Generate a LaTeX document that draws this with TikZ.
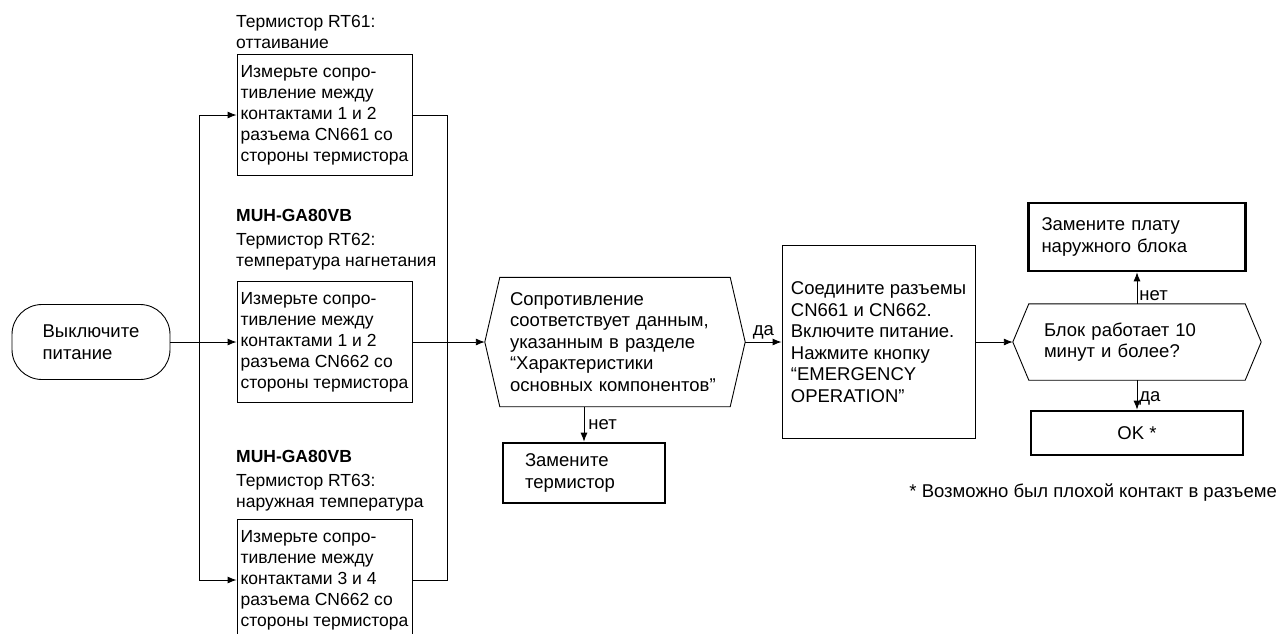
\documentclass[tikz,border=0pt]{standalone}
\usepackage{fontspec}
\setmainfont{Liberation Sans}
\usepackage{tikz}
\usetikzlibrary{arrows.meta}
% six-sided frame round a decision node
\newcommand{\hexframe}[2]{%
  \draw[line width=0.9pt] (#1.west) -- ([xshift=#2]#1.north west) -- ([xshift=-#2]#1.north east) -- (#1.east)
     -- ([xshift=-#2]#1.south east) -- ([xshift=#2]#1.south west) -- cycle;}

\begin{document}
\begin{tikzpicture}[x=1pt, y=-1pt,
    font=\fontsize{18.5}{21.5}\selectfont,
    startn/.style={draw, rounded corners=30pt, align=left, minimum width=158pt, minimum height=75pt, line width=0.9pt},
    mbox/.style={draw, align=left, minimum width=175pt, minimum height=121pt, inner sep=0pt,
                 font=\fontsize{17.5}{21}\selectfont, line width=0.9pt},
    hdr/.style={anchor=west, align=left, inner sep=0pt, font=\fontsize{17.5}{21}\selectfont},
    dec/.style={align=left, inner ysep=0pt},
    cbox/.style={draw, align=left, minimum width=193pt, minimum height=193pt, line width=0.9pt},
    tbox/.style={draw, align=left, line width=2.6pt, inner ysep=0pt},
    lbl/.style={inner sep=2pt},
    arr/.style={-{Latex[length=9pt,width=7pt]}, line width=0.9pt}
]
\useasboundingbox (0,0) rectangle (1283,633);
\clip (0,0) rectangle (1283,633);
\node[startn] (off) at (91,342) {Выключите\\питание};
\node[mbox] (rt61) at (324.5,115) {Измерьте сопро-\\тивление между\\контактами 1 и 2\\разъема CN661 со\\стороны термистора};
\node[mbox] (rt62) at (324.5,342) {Измерьте сопро-\\тивление между\\контактами 1 и 2\\разъема CN662 со\\стороны термистора};
\node[mbox] (rt63) at (324.5,580) {Измерьте сопро-\\тивление между\\контактами 3 и 4\\разъема CN662 со\\стороны термистора};
\node[hdr] (h61) at (236,31.5) {Термистор RT61:\\оттаивание};
\node[hdr] (h62) at (236,240) {\textbf{MUH-GA80VB}\\[3pt]Термистор RT62:\\температура нагнетания};
\node[hdr] (h63) at (236,481) {\textbf{MUH-GA80VB}\\[3pt]Термистор RT63:\\наружная температура};
\coordinate (jl) at (199,342);
\coordinate (jr) at (447,342);
\node[dec, text width=210pt, inner xsep=25pt, minimum height=129pt] (chk) at (615,342)
  {Сопротивление\\соответствует данным,\\указанным в разделе\\“Характеристики\\основных компонентов”};
\hexframe{chk}{15pt}
\node[tbox, text width=118pt, inner xsep=22pt, minimum height=60pt] (rth) at (584,473) {Замените\\термистор};
\node[cbox] (conn) at (878.5,342) {Соедините разъемы\\CN661 и CN662.\\Включите питание.\\Нажмите кнопку\\“EMERGENCY\\OPERATION”};
\node[dec, text width=186pt, inner xsep=31pt, minimum height=76pt] (run) at (1137,342) {Блок работает 10\\минут и более?};
\hexframe{run}{16pt}
\node[tbox, text width=191pt, inner xsep=13pt, minimum height=68pt] (brd) at (1137,237) {Замените плату\\наружного блока};
\node[tbox, minimum width=212pt, minimum height=44pt] (ok) at (1137,433) {OK *};
\node[anchor=east, inner sep=0pt] (fn) at (1277,493) {* Возможно был плохой контакт в разъеме};
\draw[arr] (off) -- (rt62);
\draw[arr] (jl) |- (rt61);
\draw[arr] (jl) |- (rt63);
\draw[line width=0.9pt] (rt61) -| (jr);
\draw[line width=0.9pt] (rt63) -| (jr);
\draw[arr] (rt62) -- (chk);
\draw[arr] (chk) -- node[lbl, above] {да} (conn);
\draw[arr] (chk.south -| rth) -- node[lbl, right, xshift=2pt] {нет} (rth);
\draw[arr] (conn) -- (run);
\draw[arr] (run) -- node[lbl, right, pos=0.25] {нет} (brd);
\draw[arr] (run) -- node[lbl, right, pos=0.6] {да} (ok);
\end{tikzpicture}
\end{document}
